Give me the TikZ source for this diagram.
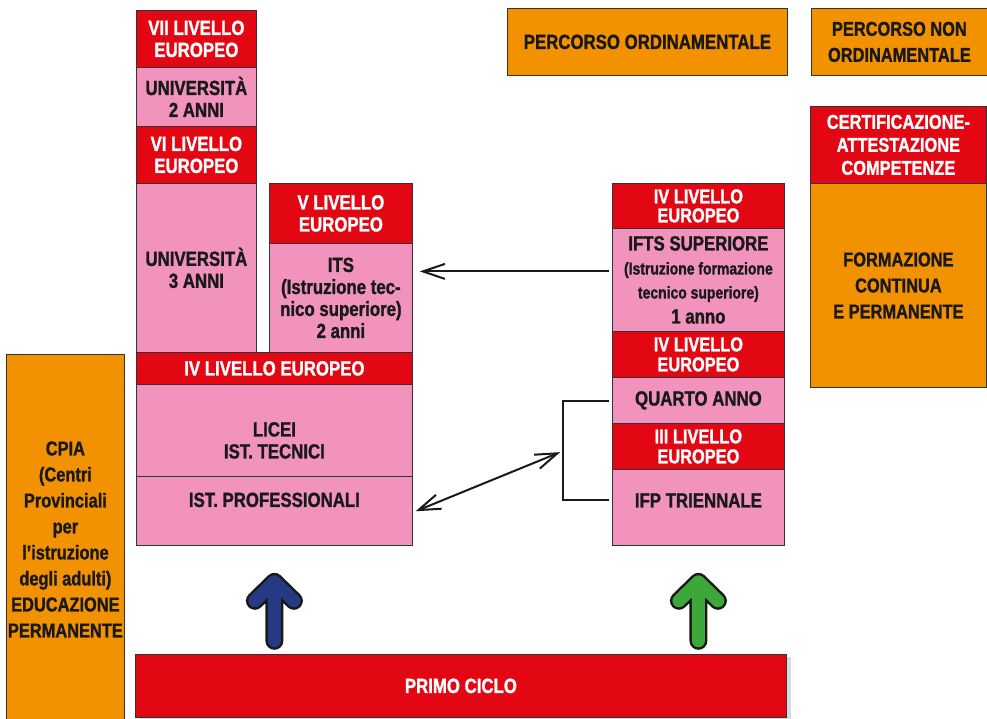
\documentclass[tikz,border=0pt]{standalone}
\usepackage{fontspec}
\setmainfont{Liberation Sans}[FakeStretch=0.82, BoldFeatures={FakeBold=1.2}]
\usepackage{xcolor}
\usepackage{tikz}
\usetikzlibrary{arrows.meta,shadows}

\definecolor{rosso}{HTML}{E30613}
\definecolor{rosa}{HTML}{F193BD}
\definecolor{arancio}{HTML}{F39200}
\definecolor{blu}{HTML}{263A84}
\definecolor{verde}{HTML}{3CA83A}

\tikzset{
    box/.style={draw=black!80, line width=0.8pt, anchor=north west, inner sep=0pt,
        align=center, font=\bfseries\fontsize{20.5}{22}\selectfont},
    redbox/.style={box, fill=rosso, text=white},
    pinkbox/.style={box, fill=rosa, text=black!90},
    orangebox/.style={box, fill=arancio, text=black!90},
    cella/.style n args={2}{minimum width=#1pt, minimum height=#2pt},
    interl/.style={font=\bfseries\fontsize{20}{#1}\selectfont},
    link/.style={line width=2pt, black!90, arrows={[length=22pt, width=15pt]}},
    fatout/.style={line width=18pt, line cap=round, line join=round, black!90},
    fatin/.style={line width=13pt, line cap=round, line join=round, #1},
}

\begin{document}
\begin{tikzpicture}[x=1pt, y=-1pt]
    \useasboundingbox (0,0) rectangle (987,718);

    % colonna universita
    \node[redbox, cella={120}{57}] (vii) at (136,10) {VII LIVELLO\\EUROPEO};
    \node[pinkbox, cella={120}{59}] (uni2) at (136,67) {UNIVERSITÀ\\2 ANNI};
    \node[redbox, cella={120}{57}] (vi) at (136,126) {VI LIVELLO\\EUROPEO};
    \node[pinkbox, cella={120}{169}] (uni3) at (136,183) {UNIVERSITÀ\\3 ANNI};

    % ITS
    \node[redbox, cella={143}{60}] (v) at (269,183) {V LIVELLO\\EUROPEO};
    \node[pinkbox, cella={143}{109}] (its) at (269,243) {ITS\\(Istruzione tec-\\nico superiore)\\2 anni};

    % secondo ciclo
    \node[redbox, cella={276}{32}] (ivbar) at (136,352) {IV LIVELLO EUROPEO};
    \node[pinkbox, cella={276}{92}] (licei) at (136,384) {};
    \node at ([yshift=-10pt]licei.center) [font=\bfseries\fontsize{20.5}{22}\selectfont, align=center, text=black!90] (liceit) {LICEI\\IST. TECNICI};
    \node[pinkbox, cella={276}{69}] (prof) at (136,476) {};
    \node at ([yshift=11pt]prof.center) [font=\bfseries\fontsize{20.5}{22}\selectfont, text=black!90] (proft) {IST. PROFESSIONALI};

    % CPIA
    \node[orangebox, cella={118}{370}, interl=26] (cpia) at (6,354)
        {CPIA\\(Centri\\Provinciali\\per\\l’istruzione\\degli adulti)\\EDUCAZIONE\\PERMANENTE};

    % primo ciclo
    \node[redbox, cella={651}{63}, drop shadow={shadow xshift=5pt, shadow yshift=-3pt, opacity=0.3}] (primo) at (135,654) {PRIMO CICLO};

    % colonna IeFP
    \node[redbox, cella={172}{45}, interl=19] (iva) at (612,183) {IV LIVELLO\\EUROPEO};
    \node[pinkbox, cella={172}{103}] (ifts) at (612,228)
        {IFTS SUPERIORE\\[2pt]{\fontsize{17}{22}\selectfont (Istruzione formazione}\\[2pt]{\fontsize{17}{22}\selectfont tecnico superiore)}\\[3pt]1 anno};
    \node[redbox, cella={172}{46}, interl=20] (ivb) at (612,331) {IV LIVELLO\\EUROPEO};
    \node[pinkbox, cella={172}{46}] (quarto) at (612,377) {QUARTO ANNO};
    \node[redbox, cella={172}{46}, interl=20] (iii) at (612,423) {III LIVELLO\\EUROPEO};
    \node[pinkbox, cella={172}{76}] (ifp) at (612,469) {};
    \node at ([yshift=7pt]ifp.center) [font=\bfseries\fontsize{20.5}{22}\selectfont, text=black!90] (ifpt) {IFP TRIENNALE};

    % legenda e formazione continua
    \node[orangebox, cella={280}{67}] (ord) at (507,8) {PERCORSO ORDINAMENTALE};
    \node[orangebox, cella={176}{67}, interl=26] (nonord) at (811,8) {PERCORSO NON\\ORDINAMENTALE};
    \node[redbox, cella={176}{77}, interl=23] (cert) at (810,106) {CERTIFICAZIONE-\\ATTESTAZIONE\\COMPETENZE};
    \node[orangebox, cella={176}{204}, interl=26] (formaz) at (810,183) {FORMAZIONE\\CONTINUA\\E PERMANENTE};

    % collegamenti
    \coordinate (giunto) at (563,451);
    \draw[link, -{Straight Barb}, shorten <=3pt, shorten >=7pt] ([yshift=8.5pt]ifts.west) -- ([yshift=8.5pt]ifts.west -| its.east);
    \draw[link, shorten <=3pt, shorten >=3pt] ([yshift=-1pt]quarto.west) -| (giunto) |- ([yshift=7pt]ifp.west);
    \draw[link, {Straight Barb}-{Straight Barb}, shorten <=3pt, shorten >=3pt] ([yshift=-1.5pt]prof.east) -- (giunto);

    % frecce dal primo ciclo
    \foreach \n/\col in {prof/blu, ifp/verde}{
        \draw[fatout] ([shift={(-19.5,55)}]\n.south) -- ([shift={(0,36)}]\n.south) -- ([shift={(19.5,55)}]\n.south)
            ([shift={(0,36)}]\n.south) -- ([shift={(0,95)}]\n.south);
        \draw[fatin=\col] ([shift={(-19.5,55)}]\n.south) -- ([shift={(0,36)}]\n.south) -- ([shift={(19.5,55)}]\n.south)
            ([shift={(0,36)}]\n.south) -- ([shift={(0,95)}]\n.south);
    }
\end{tikzpicture}
\end{document}
